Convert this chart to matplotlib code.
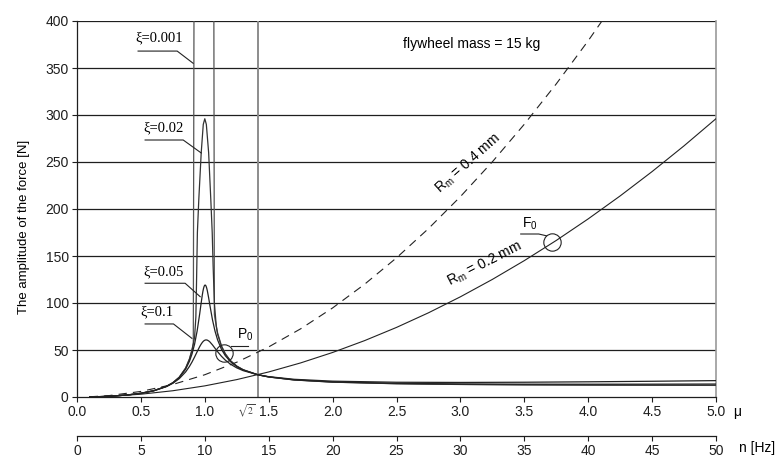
import matplotlib
matplotlib.use("Agg")
import matplotlib.pyplot as plt

plt.rcParams['font.family'] = ['Liberation Sans', 'DejaVu Sans']
plt.rcParams['mathtext.fontset'] = 'custom'
plt.rcParams['mathtext.rm'] = 'Liberation Sans'
plt.rcParams['mathtext.it'] = 'Liberation Sans:italic'

# frequency ratio (mu) grid and transmitted force [N]
mu_damped = [0.1, 0.2, 0.3, 0.4, 0.5, 0.6, 0.7, 0.75, 0.8, 0.85, 0.88, 0.9, 0.92, 0.94, 0.96,
             0.97, 0.98, 0.985, 0.99, 0.995, 1.0, 1.005, 1.01, 1.015, 1.02, 1.03, 1.04, 1.06,
             1.08, 1.1, 1.13, 1.16, 1.2, 1.25, 1.3, 1.414, 1.5, 1.7, 2.0, 2.5, 3.0, 3.5, 4.0,
             4.5, 5.0]
force_xi_01 = [0.12, 0.49, 1.17, 2.25, 3.93, 6.60, 11.08, 14.57, 19.49, 26.67, 32.55, 37.24,
               42.52, 48.16, 53.59, 55.97, 57.96, 58.78, 59.46, 60.00, 60.39, 60.63, 60.72,
               60.66, 60.47, 59.72, 58.56, 55.43, 51.83, 48.24, 43.38, 39.30, 34.99, 30.99,
               28.05, 23.69, 21.64, 18.83, 16.86, 15.69, 15.49, 15.71, 16.16, 16.74, 17.43]
force_xi_005 = [0.12, 0.49, 1.17, 2.25, 3.94, 6.65, 11.30, 15.05, 20.62, 29.59, 38.02, 45.81,
                56.22, 70.25, 88.46, 98.56, 108.12, 112.20, 115.51, 117.83, 119.02, 119.03,
                117.91, 115.80, 112.89, 105.56, 97.42, 82.18, 70.04, 60.81, 50.89, 44.01,
                37.66, 32.36, 28.75, 23.69, 21.40, 18.30, 16.07, 14.52, 13.90, 13.66, 13.60,
                13.66, 13.79]

mu_xi_002 = [0.1, 0.2, 0.3, 0.4, 0.5, 0.6, 0.7, 0.75, 0.8, 0.85, 0.88, 0.9, 0.92, 0.93, 0.935,
             0.942, 0.953, 0.972, 0.988, 1.0, 1.012, 1.03, 1.047, 1.058, 1.065, 1.075, 1.09,
             1.1, 1.13, 1.16, 1.2, 1.25, 1.3, 1.414, 1.5, 1.7, 2.0, 2.5, 3.0, 3.5, 4.0, 4.5, 5.0]
force_xi_002 = [0.12, 0.49, 1.17, 2.25, 3.95, 6.66, 11.37, 15.20, 20.98, 30.62, 40.19, 49.64,
                63.5, 85, 120, 175, 210, 260, 290, 296, 290, 260, 210, 175, 140, 100, 75,
                66.85, 53.96, 45.75, 38.57, 32.81, 28.96, 23.69, 21.33, 18.14, 15.84, 14.17,
                13.42, 13.02, 12.79, 12.66, 12.58]

mu_xi_0001 = [0.1, 0.2, 0.3, 0.4, 0.5, 0.6, 0.7, 0.75, 0.8, 0.85, 0.88, 0.9, 0.91, 1.0, 1.075,
              1.08, 1.1, 1.13, 1.16, 1.2, 1.25, 1.3, 1.414, 1.5, 1.7, 2.0, 2.5, 3.0, 3.5, 4.0,
              4.5, 5.0]
force_xi_0001 = [0.12, 0.49, 1.17, 2.26, 3.95, 6.66, 11.38, 15.23, 21.05, 30.84, 40.65, 50.49,
                 57.05, 5921, 87.94, 83.02, 68.24, 54.61, 46.11, 38.76, 32.90, 29.01, 23.69,
                 21.32, 18.11, 15.79, 14.10, 13.32, 12.90, 12.63, 12.46, 12.34]

# unbalance force for the two eccentricities
mu_r = [0.1, 0.25, 0.5, 0.75, 1.0, 1.25, 1.5, 1.75, 2.0, 2.25, 2.5, 2.75, 3.0, 3.25, 3.5,
        3.75, 4.0, 4.25, 4.5, 4.75, 5.0]
force_r02 = [0.12, 0.74, 2.96, 6.66, 11.84, 18.51, 26.65, 36.27, 47.37, 59.96, 74.02, 89.56,
             106.59, 125.09, 145.08, 166.54, 189.49, 213.91, 239.82, 267.21, 296.08]
force_r04 = [0.24, 1.48, 5.92, 13.32, 23.69, 37.01, 53.29, 72.54, 94.74, 119.91, 148.04,
             179.13, 213.17, 250.19, 290.15, 333.08, 378.98, 427.82, 479.6, 534.4, 592.2]

mu_ticks = [0.0, 0.5, 1.0, 1.5, 2.0, 2.5, 3.0, 3.5, 4.0, 4.5, 5.0]
hz_ticks = [0, 5, 10, 15, 20, 25, 30, 35, 40, 45, 50]
force_ticks = [0, 50, 100, 150, 200, 250, 300, 350, 400]

fig = plt.figure(figsize=(7.78, 4.57), dpi=100)
ax = fig.add_axes([77 / 778, 1 - 397 / 457, 639 / 778, 376 / 457])
ax.set_xlim(0, 5)
ax.set_ylim(0, 400)

for y in force_ticks[1:]:
    ax.axhline(y, color='#1e1e1e', lw=0.9, zorder=1)
ax.axvline(1.414, color='#8c8c8c', lw=1.4, zorder=1)

ax.plot(mu_xi_0001, force_xi_0001, color='#555555', lw=0.9, zorder=3)
ax.plot(mu_xi_002, force_xi_002, color='#333333', lw=0.9, zorder=3)
ax.plot(mu_damped, force_xi_005, color='#222222', lw=0.9, zorder=3)
ax.plot(mu_damped, force_xi_01, color='#222222', lw=0.9, zorder=3)
ax.plot(mu_r, force_r02, color='#222222', lw=0.8, zorder=3)
ax.plot(mu_r, force_r04, color='#222222', lw=0.8, ls=(0, (7.5, 5.5)), zorder=3)

# spines and ticks
ax.spines['top'].set_visible(False)
ax.spines['right'].set_color('#999999')
ax.spines['right'].set_linewidth(1.2)
for s in ('left', 'bottom'):
    ax.spines[s].set_linewidth(0.9)
    ax.spines[s].set_color('#1e1e1e')
ax.set_xticks(mu_ticks)
ax.set_xticklabels([f'{v:.1f}' for v in mu_ticks])
ax.set_yticks(force_ticks)
ax.tick_params(axis='both', direction='out', length=3.5, width=0.8, labelsize=10,
               colors='#1e1e1e', pad=2.5)

sec = ax.secondary_xaxis(-0.104, functions=(lambda m: m * 10, lambda n: n / 10))
sec.set_xticks(hz_ticks)
sec.set_xticklabels([str(v) for v in hz_ticks])
sec.tick_params(direction='out', length=3.5, width=0.8, labelsize=10, colors='#1e1e1e', pad=2.5)
sec.spines['bottom'].set_linewidth(0.9)
sec.spines['bottom'].set_color('#1e1e1e')

ax.text(1.027, -0.040, 'μ', transform=ax.transAxes, ha='left', va='center', fontsize=10)
ax.text(1.036, -0.136, 'n [Hz]', transform=ax.transAxes, ha='left', va='center', fontsize=10)
ax.text(1.395, -0.036, r'$\sqrt{2}$', transform=ax.get_xaxis_transform(), ha='right',
        va='center', fontsize=7, math_fontfamily='stix', color='#444444')

ax.set_ylabel('The amplitude of the force [N]', fontsize=9.5)
ax.yaxis.set_label_coords(-0.0736, 0.453)

ax.text(2.55, 376, 'flywheel mass = 15 kg', fontsize=10, ha='left', va='center')

# damping labels with leader lines
serif = ['Liberation Serif', 'DejaVu Serif']
xi_labels = [
    ('ξ=0.001', (0.455, 382), [0.478, 0.784, 0.909], [368, 368, 355]),
    ('ξ=0.02', (0.517, 286), [0.533, 0.831, 0.972], [273.4, 273.4, 259.6]),
    ('ξ=0.05', (0.517, 133), [0.533, 0.846, 0.964], [121, 121, 106.7]),
    ('ξ=0.1', (0.494, 91), [0.533, 0.755, 0.899], [77.7, 77.7, 62.4]),
]
for txt, (tx, ty), lx, ly in xi_labels:
    ax.text(tx, ty, txt, fontsize=10.5, family=serif, ha='left', va='center', zorder=5)
    ax.plot(lx, ly, color='#222222', lw=0.8, zorder=5)

# P0 and F0 markers
ax.plot([1.147], [46.5], 'o', ms=12.5, mfc='none', mec='#222222', mew=0.8, zorder=5)
ax.plot([1.207, 1.34], [54.3, 54.3], color='#222222', lw=0.8, zorder=5)
ax.text(1.251, 66, 'P$_0$', fontsize=10, ha='left', va='center', zorder=5)

ax.plot([3.72], [165], 'o', ms=12.5, mfc='none', mec='#222222', mew=0.8, zorder=5)
ax.plot([3.472, 3.613, 3.673], [173.4, 173.4, 171.5], color='#222222', lw=0.8, zorder=5)
ax.text(3.485, 184, 'F$_0$', fontsize=10, ha='left', va='center', zorder=5)

ax.text(3.06, 248, 'R$_\\mathrm{m}$ = 0.4 mm', fontsize=10, rotation=41.7,
        rotation_mode='anchor', ha='center', va='center', zorder=5)
ax.text(3.19, 141, 'R$_\\mathrm{m}$ = 0.2 mm', fontsize=10, rotation=27.1,
        rotation_mode='anchor', ha='center', va='center', zorder=5)

fig.savefig('out.png', dpi=100)
